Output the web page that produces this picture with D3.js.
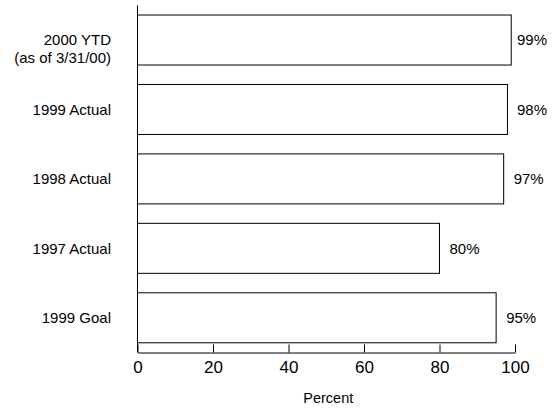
<!DOCTYPE html>
<html>
<head>
<meta charset="utf-8">
<script src="https://cdn.jsdelivr.net/npm/d3@7"></script>
<style>
  html, body { margin: 0; padding: 0; background: #fff; }
  svg { display: block; font-family: Arial, "Liberation Sans", Helvetica, sans-serif; }
</style>
</head>
<body>
<svg id="chart" width="556" height="409"></svg>
<script>
// Category labels (top to bottom); a "\n" splits a label onto a second line
const categories = ["2000 YTD\n(as of 3/31/00)", "1999 Actual", "1998 Actual", "1997 Actual", "1999 Goal"];
const values = [99, 98, 97, 80, 95];
const xTicks = [0, 20, 40, 60, 80, 100];
const xTitle = "Percent";

const svg = d3.select("#chart");
const plotLeft = 137.5, plotRight = 515, plotTop = 5.3, plotBottom = 352.5;

const x = d3.scaleLinear().domain([0, 100]).range([plotLeft, plotRight]);
const y = d3.scaleBand().domain(categories).range([plotTop, plotBottom])
  .paddingInner(0.28).paddingOuter(0.14);

// Bars: white fill, thin black outline
svg.append("g").selectAll("rect")
  .data(categories)
  .join("rect")
  .attr("x", x(0))
  .attr("y", d => y(d))
  .attr("width", (d, i) => x(values[i]) - x(0))
  .attr("height", y.bandwidth())
  .attr("fill", "#fff")
  .attr("stroke", "#000")
  .attr("stroke-width", 1);

// Value labels just past the bar ends, kept inside the right margin
svg.append("g").selectAll("text")
  .data(categories)
  .join("text")
  .attr("x", (d, i) => Math.min(x(values[i]) + 10, plotRight + 2))
  .attr("y", d => y(d) + y.bandwidth() / 2)
  .attr("dy", "0.35em")
  .attr("font-size", 15)
  .attr("fill", "#000")
  .text((d, i) => values[i] + "%");

// Bottom axis with ticks pointing up into the plot
const xAxis = svg.append("g")
  .attr("transform", `translate(0,${plotBottom})`)
  .call(d3.axisBottom(x).tickValues(xTicks).tickSize(-8).tickSizeOuter(0).tickPadding(7));
xAxis.select(".domain").attr("stroke", "#000");
xAxis.selectAll(".tick line").attr("stroke", "#000");
xAxis.selectAll(".tick text")
  .attr("font-size", 17)
  .attr("font-family", "Arial, 'Liberation Sans', sans-serif")
  .attr("fill", "#000")
  .attr("dy", "0.82em");

// Left axis: plain vertical line
svg.append("line")
  .attr("x1", plotLeft).attr("x2", plotLeft)
  .attr("y1", plotTop).attr("y2", plotBottom)
  .attr("stroke", "#000");

// Category labels, right-aligned; extra lines go below the bar centre
const catG = svg.append("g");
categories.forEach(c => {
  const lines = c.split("\n");
  const t = catG.append("text")
    .attr("text-anchor", "end")
    .attr("font-size", 15)
    .attr("fill", "#000")
    .attr("y", y(c) + y.bandwidth() / 2);
  lines.forEach((ln, j) => {
    t.append("tspan")
      .attr("x", 111)
      .attr("dy", j === 0 ? "0.35em" : "1.2em")
      .text(ln);
  });
});

// Axis title
svg.append("text")
  .attr("x", (plotLeft + plotRight) / 2 + 2)
  .attr("y", 398)
  .attr("dy", "0.35em")
  .attr("text-anchor", "middle")
  .attr("font-size", 14.5)
  .attr("fill", "#000")
  .text(xTitle);
</script>
</body>
</html>
